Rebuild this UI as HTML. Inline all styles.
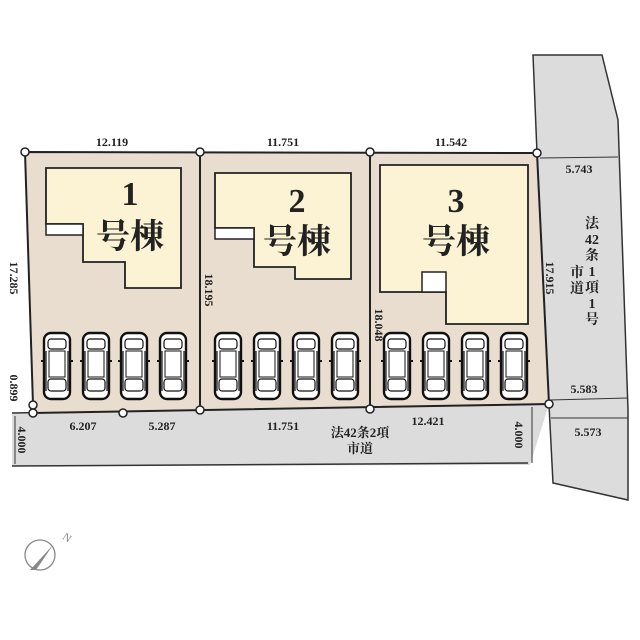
<!DOCTYPE html>
<html><head><meta charset="utf-8"><style>body{margin:0;background:#fff}svg{display:block}text{font-family:"Liberation Serif","Noto Serif CJK SC",serif;fill:#222}</style></head><body>
<svg width="640" height="640" viewBox="0 0 640 640" xmlns="http://www.w3.org/2000/svg">
<defs>
<g id="car">
<rect x="-13" y="0" width="26" height="66" rx="7" fill="#fff" stroke="#111" stroke-width="2.4"/>
<rect x="-9" y="6" width="18" height="10" rx="3" fill="none" stroke="#111" stroke-width="1.2"/>
<rect x="-8" y="18" width="16" height="26" fill="none" stroke="#111" stroke-width="1"/>
<rect x="-9" y="46" width="18" height="12" rx="3" fill="none" stroke="#111" stroke-width="1.2"/>
<line x1="-11" y1="18" x2="-11" y2="58" stroke="#111" stroke-width="1.2"/>
<line x1="11" y1="18" x2="11" y2="58" stroke="#111" stroke-width="1.2"/>
<line x1="-16" y1="28" x2="-13" y2="28" stroke="#111" stroke-width="2"/>
<line x1="13" y1="28" x2="16" y2="28" stroke="#111" stroke-width="2"/>
</g>
</defs>
<polygon points="533,55 602,55 618,120 628,410 628,500 553,483 549,405 537,153" fill="#dcdcdc" stroke="#333" stroke-width="1.5"/>
<polygon points="12,413 549,404 530,465 12,466" fill="#dcdcdc"/>
<line x1="12" y1="413" x2="549" y2="404" stroke="#333" stroke-width="1.5"/>
<line x1="12" y1="466" x2="528" y2="463" stroke="#333" stroke-width="1.5"/>
<polygon points="25,152 537,153 549,404 33,413 33,405" fill="#e9ddd0" stroke="#222" stroke-width="2"/>
<line x1="200" y1="152" x2="200" y2="410" stroke="#222" stroke-width="2"/>
<line x1="370" y1="152" x2="370" y2="409" stroke="#222" stroke-width="2"/>
<polygon points="46,168 181,168 181,288 125,288 125,262 83,262 83,224 46,224" fill="#fbf3d3" stroke="#222" stroke-width="1.8"/>
<rect x="46" y="224" width="37" height="11" fill="#fff" stroke="#222" stroke-width="1.5"/>
<polygon points="215,173 351,173 351,279 295,279 295,267 254,267 254,228 215,228" fill="#fbf3d3" stroke="#222" stroke-width="1.8"/>
<rect x="215" y="228" width="39" height="11" fill="#fff" stroke="#222" stroke-width="1.5"/>
<polygon points="380,165 528,165 528,324 446,324 446,292 380,292" fill="#fbf3d3" stroke="#222" stroke-width="1.8"/>
<rect x="422" y="272" width="24" height="20" fill="#fff" stroke="#222" stroke-width="1.5"/>
<g font-weight="bold">
<text x="130" y="205" font-size="34" text-anchor="middle">1</text>
<text x="130" y="248" font-size="34" text-anchor="middle">号棟</text>
<text x="297" y="212" font-size="34" text-anchor="middle">2</text>
<text x="297" y="253" font-size="34" text-anchor="middle">号棟</text>
<text x="456" y="212" font-size="34" text-anchor="middle">3</text>
<text x="456" y="253" font-size="34" text-anchor="middle">号棟</text>
</g>
<use href="#car" x="57" y="333"/><use href="#car" x="96" y="333"/><use href="#car" x="134" y="333"/><use href="#car" x="173" y="333"/>
<use href="#car" x="228" y="333"/><use href="#car" x="267" y="333"/><use href="#car" x="306" y="333"/><use href="#car" x="345" y="333"/>
<use href="#car" x="397" y="333"/><use href="#car" x="436" y="333"/><use href="#car" x="475" y="333"/><use href="#car" x="514" y="333"/>
<g fill="#fff" stroke="#222" stroke-width="1.5">
<circle cx="25" cy="152" r="4"/><circle cx="200" cy="152" r="4"/><circle cx="370" cy="152" r="4"/><circle cx="537" cy="153" r="4"/>
<circle cx="33" cy="405" r="4"/><circle cx="33" cy="413" r="4"/><circle cx="123" cy="413" r="4"/><circle cx="200" cy="410" r="4"/><circle cx="370" cy="409" r="4"/><circle cx="549" cy="404" r="4"/>
</g>
<g stroke="#333" stroke-width="1">
<line x1="540" y1="158" x2="618" y2="157"/><line x1="550" y1="400" x2="628" y2="398"/><line x1="551" y1="418" x2="628" y2="418"/>
<line x1="15" y1="416" x2="15" y2="464"/><line x1="532" y1="407" x2="532" y2="463"/>
</g>
<g font-size="12" font-weight="bold">
<text x="112" y="146" text-anchor="middle">12.119</text>
<text x="283" y="146" text-anchor="middle">11.751</text>
<text x="451" y="146" text-anchor="middle">11.542</text>
<text x="579" y="173" text-anchor="middle">5.743</text>
<text x="584" y="393" text-anchor="middle">5.583</text>
<text x="588" y="436" text-anchor="middle">5.573</text>
<text x="83" y="430" text-anchor="middle">6.207</text>
<text x="162" y="430" text-anchor="middle">5.287</text>
<text x="283" y="430" text-anchor="middle">11.751</text>
<text x="428" y="425" text-anchor="middle">12.421</text>
<text x="360" y="437" text-anchor="middle" font-size="13">法42条2項</text>
<text x="360" y="453" text-anchor="middle" font-size="13">市道</text>
<text transform="translate(10,278) rotate(90)" text-anchor="middle">17.285</text>
<text transform="translate(10,388) rotate(90)" text-anchor="middle">0.899</text>
<text transform="translate(18,440) rotate(90)" text-anchor="middle">4.000</text>
<text transform="translate(205,290) rotate(90)" text-anchor="middle">18.195</text>
<text transform="translate(375,325) rotate(90)" text-anchor="middle">18.048</text>
<text transform="translate(546,278) rotate(90)" text-anchor="middle">17.915</text>
<text transform="translate(515,435) rotate(90)" text-anchor="middle">4.000</text>
</g>
<g font-size="14" text-anchor="middle" font-weight="bold">
<text x="592" y="228">法</text><text x="592" y="244">42</text><text x="592" y="260">条</text><text x="592" y="276">1</text><text x="592" y="292">項</text><text x="592" y="308">1</text><text x="592" y="324">号</text>
<text x="577" y="277">市</text><text x="577" y="293">道</text>
</g>
<circle cx="40" cy="555" r="15" fill="none" stroke="#888" stroke-width="1.3"/>
<polygon points="53,545 30,570 36,570" fill="#888"/>
<text x="64" y="539" font-size="11" transform="rotate(35 64 535)" style="fill:#888">N</text>
</svg>
</body></html>
